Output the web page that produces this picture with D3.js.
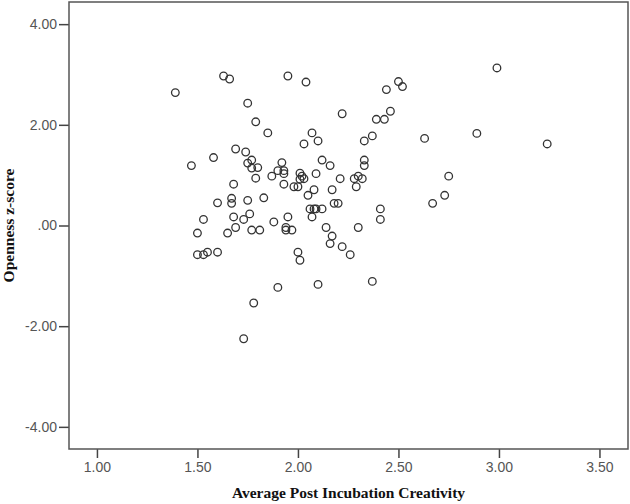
<!DOCTYPE html>
<html>
<head>
<meta charset="utf-8">
<script src="https://cdn.jsdelivr.net/npm/d3@7/dist/d3.min.js"></script>
<style>
  html, body { margin: 0; padding: 0; background: #fff; }
  svg { display: block; }
</style>
</head>
<body>
<svg id="chart" width="630" height="504"></svg>
<script>
// Average Post Incubation Creativity (x) and Openness z-score (y)
const creativity = [
  1.39, 1.63, 1.66, 1.95, 2.04, 1.75, 1.79, 1.85, 2.07, 2.10,
  2.03, 1.69, 1.74, 1.58, 1.47, 1.77, 1.75, 1.92, 1.80, 1.77,
  1.90, 1.93, 1.93, 1.79, 1.87, 2.01, 2.02, 2.03, 2.01, 2.09,
  2.12, 2.16, 1.93, 1.98, 2.00, 2.08, 2.05, 2.17, 1.68, 1.67,
  1.67, 1.60, 1.75, 1.83, 2.06, 2.08, 2.09, 2.12, 2.07, 1.53,
  1.68, 1.76, 1.73, 1.95, 1.88, 1.69, 1.94, 1.94, 1.97, 1.77,
  1.81, 1.50, 1.65, 1.50, 1.53, 1.55, 1.60, 2.00, 2.01, 1.90,
  2.10, 1.78, 1.73, 2.37, 2.22, 2.50, 2.52, 2.44, 2.46, 2.39,
  2.43, 2.37, 2.33, 2.63, 2.89, 2.99, 3.24, 2.33, 2.33, 2.21,
  2.28, 2.30, 2.32, 2.29, 2.75, 2.73, 2.67, 2.18, 2.20, 2.41,
  2.41, 2.14, 2.30, 2.17, 2.16, 2.22, 2.26
];
const openness = [
  2.64, 2.97, 2.91, 2.97, 2.85, 2.43, 2.06, 1.84, 1.84, 1.68,
  1.62, 1.52, 1.46, 1.35, 1.19, 1.30, 1.24, 1.25, 1.15, 1.14,
  1.09, 1.09, 1.03, 0.94, 0.98, 1.04, 0.98, 0.93, 0.92, 1.03,
  1.30, 1.19, 0.82, 0.77, 0.77, 0.71, 0.60, 0.71, 0.82, 0.54,
  0.44, 0.45, 0.50, 0.55, 0.33, 0.33, 0.33, 0.33, 0.17, 0.12,
  0.17, 0.23, 0.12, 0.17, 0.07, -0.04, -0.04, -0.09, -0.09, -0.09,
  -0.09, -0.15, -0.15, -0.58, -0.58, -0.53, -0.53, -0.53, -0.69, -1.23,
  -1.17, -1.54, -2.25, -1.11, 2.22, 2.86, 2.76, 2.70, 2.27, 2.11,
  2.11, 1.78, 1.68, 1.73, 1.83, 3.13, 1.62, 1.30, 1.19, 0.93,
  0.93, 0.98, 0.93, 0.77, 0.98, 0.60, 0.44, 0.44, 0.44, 0.33,
  0.12, -0.04, -0.04, -0.21, -0.36, -0.42, -0.58
];
const xTicks = [1.00, 1.50, 2.00, 2.50, 3.00, 3.50];
const yTicks = [-4.00, -2.00, 0.00, 2.00, 4.00];
const xTitle = "Average Post Incubation Creativity";
const yTitle = "Openness z-score";

const svg = d3.select("#chart");
const pLeft = 69, pRight = 628, pTop = 2, pBottom = 449;

const x = d3.scaleLinear().domain([0.861, 3.642]).range([pLeft, pRight]);
const y = d3.scaleLinear().domain([-4.44, 4.44]).range([pBottom, pTop]);

const fmt = d => {
  const s = Math.abs(d).toFixed(2);
  const t = s.startsWith("0") ? s.slice(1) : s;
  return (d < 0 ? "-" : "") + t;
};

// axes
const xAxis = svg.append("g")
  .attr("transform", `translate(0,${pBottom})`)
  .call(d3.axisBottom(x).tickValues(xTicks).tickSize(9).tickPadding(4).tickFormat(fmt));
const yAxis = svg.append("g")
  .attr("transform", `translate(${pLeft},0)`)
  .call(d3.axisLeft(y).tickValues(yTicks).tickSize(10).tickPadding(2).tickFormat(fmt));

[xAxis, yAxis].forEach(g => {
  g.select(".domain").remove();
  g.selectAll(".tick line").attr("stroke", "#444").attr("stroke-width", 1.5);
  g.selectAll(".tick text")
    .attr("fill", "#555")
    .style("font-family", "'Liberation Sans', Arial, sans-serif")
    .style("font-size", "14px");
});

// frame
svg.append("rect")
  .attr("x", pLeft).attr("y", pTop)
  .attr("width", pRight - pLeft).attr("height", pBottom - pTop)
  .attr("fill", "none").attr("stroke", "#555").attr("stroke-width", 1.5);

// points
const pts = creativity.map((c, i) => ({ c, o: openness[i] }));
svg.append("g").selectAll("circle")
  .data(pts).join("circle")
  .attr("cx", d => x(d.c))
  .attr("cy", d => y(d.o))
  .attr("r", 3.8)
  .attr("fill", "none")
  .attr("stroke", "#333")
  .attr("stroke-width", 1.3);

// titles
svg.append("text")
  .attr("x", (pLeft + pRight) / 2).attr("y", 498)
  .attr("text-anchor", "middle")
  .style("font-family", "'Liberation Serif', 'Times New Roman', serif")
  .style("font-weight", "bold").style("font-size", "15.5px")
  .attr("fill", "#111")
  .text(xTitle);

svg.append("text")
  .attr("transform", `translate(14,${(pTop + pBottom) / 2}) rotate(-90)`)
  .attr("text-anchor", "middle")
  .style("font-family", "'Liberation Serif', 'Times New Roman', serif")
  .style("font-weight", "bold").style("font-size", "15.5px")
  .attr("fill", "#111")
  .text(yTitle);
</script>
</body>
</html>
